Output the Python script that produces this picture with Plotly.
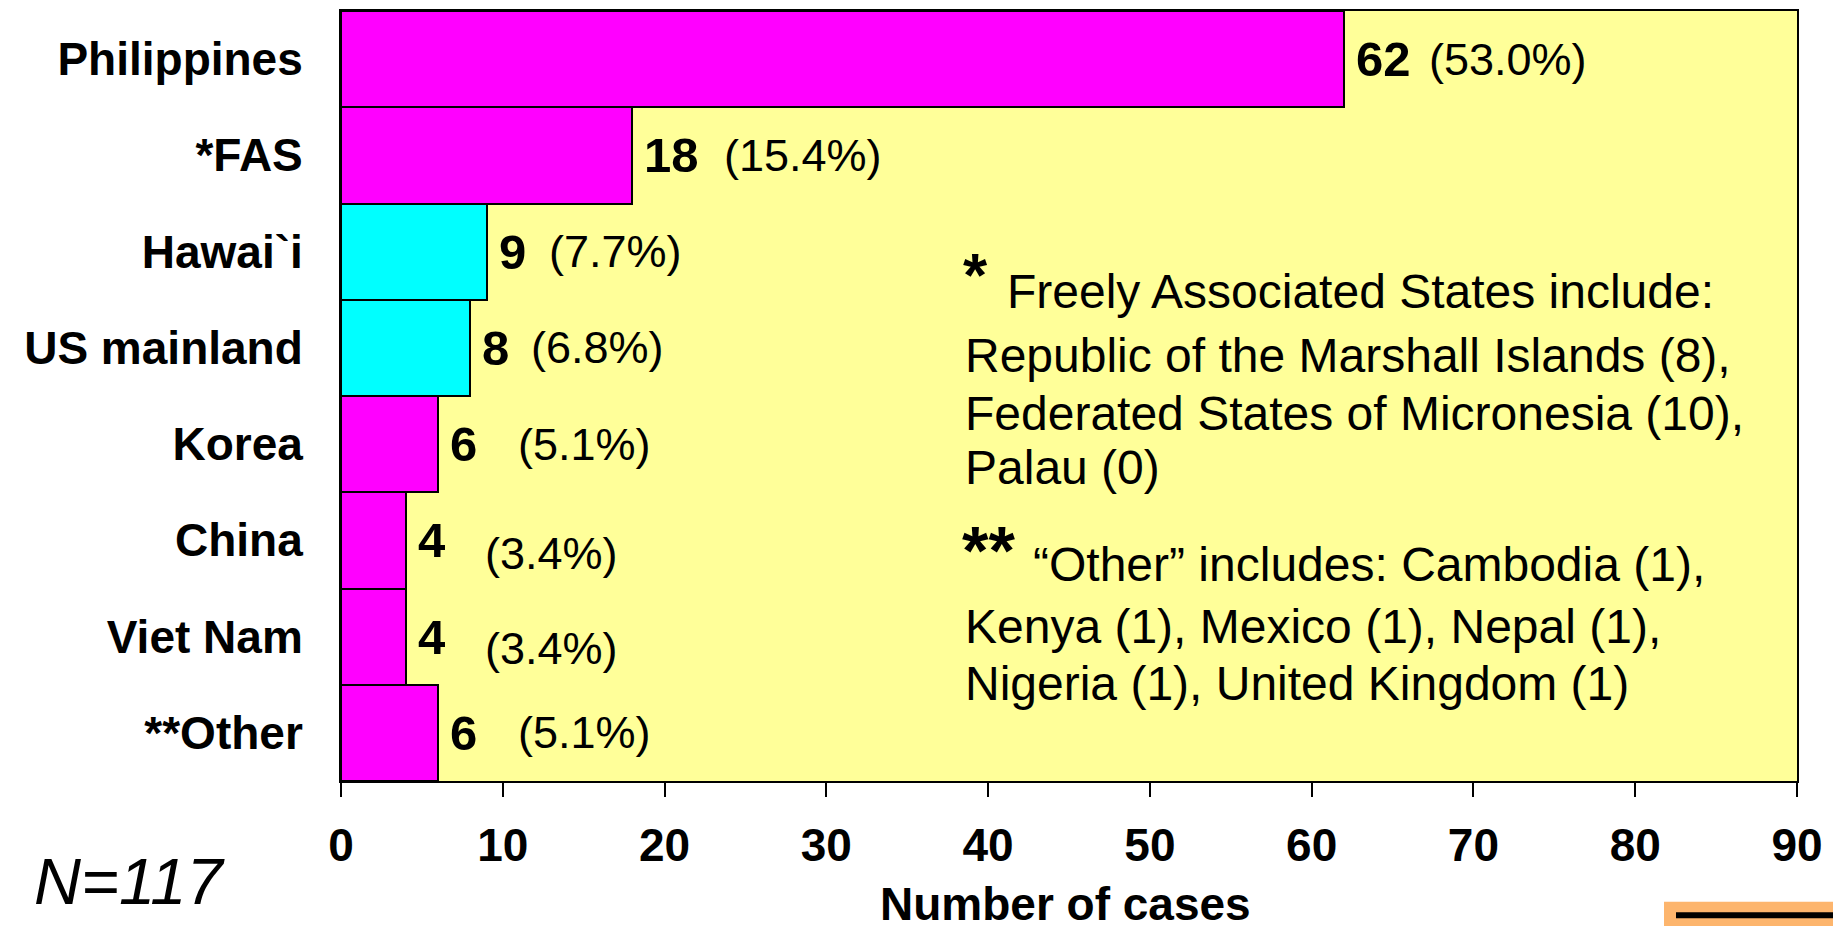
import plotly.graph_objects as go

# ---- data ----
categories = ["Philippines", "*FAS", "Hawai`i", "US mainland", "Korea", "China", "Viet Nam", "**Other"]
cases = [62, 18, 9, 8, 6, 4, 4, 6]
percents = ["(53.0%)", "(15.4%)", "(7.7%)", "(6.8%)", "(5.1%)", "(3.4%)", "(3.4%)", "(5.1%)"]
origin_group = ["foreign", "foreign", "us", "us", "foreign", "foreign", "foreign", "foreign"]
x_ticks = [0, 10, 20, 30, 40, 50, 60, 70, 80, 90]
note_fas = ["Freely Associated States include:",
            "Republic of the Marshall Islands (8),",
            "Federated States of Micronesia (10),",
            "Palau (0)"]
note_other = ["\u201cOther\u201d includes: Cambodia (1),",
              "Kenya (1), Mexico (1), Nepal (1),",
              "Nigeria (1), United Kingdom (1)"]
total_label = "N=117"
x_title = "Number of cases"

# ---- style ----
OFF = 8  # page body margin
W, H = 1841 - OFF, 926 - OFF
L, T = 341 - OFF, 9 - OFF
R = 44
B = H - (781 - OFF)
PW, PH = W - L - R, H - T - B
FONT = "Liberation Sans, Arial, sans-serif"
group_colors = {"foreign": "#FF00FF", "us": "#00FFFF"}


def px_x(p):
    return (p - OFF - L) / PW


def px_y(p):
    return (H - B - (p - OFF)) / PH


fig = go.Figure()
fig.add_trace(go.Bar(
    x=cases, y=categories, orientation="h",
    marker=dict(color=[group_colors[g] for g in origin_group],
                line=dict(color="black", width=2)),
    width=1, hoverinfo="skip", showlegend=False,
))

annotations = []
# value labels
pct_shift = [83, 90, 60, 59, 78, 77, 77, 78]
pct_yshift = [0, 0, 0, 0, 0, -13, -12, 0]
for i, (c, v, p) in enumerate(zip(categories, cases, percents)):
    annotations.append(dict(x=v, y=c, xref="x", yref="y", text="<b>%d</b>" % v,
                            showarrow=False, xanchor="left", yanchor="middle", xshift=10,
                            font=dict(family=FONT, size=49, color="black")))
    annotations.append(dict(x=v, y=c, xref="x", yref="y", text=p,
                            showarrow=False, xanchor="left", yanchor="middle",
                            xshift=pct_shift[i], yshift=pct_yshift[i],
                            font=dict(family=FONT, size=45, color="black")))

# footnotes
note_font = dict(family=FONT, size=48, color="black")
annotations.append(dict(x=px_x(961), y=px_y(273), xref="paper", yref="paper", text="<b>*</b>",
                        showarrow=False, xanchor="left", yanchor="middle",
                        font=dict(family=FONT, size=62, color="black")))
fas_x = [1005, 963, 963, 963]
fas_y = [290, 354, 413, 467]
for t, xx, yy in zip(note_fas, fas_x, fas_y):
    annotations.append(dict(x=px_x(xx), y=px_y(yy), xref="paper", yref="paper", text=t,
                            showarrow=False, xanchor="left", yanchor="middle", font=note_font))
annotations.append(dict(x=px_x(960), y=px_y(549), xref="paper", yref="paper", text="<b>**</b>",
                        showarrow=False, xanchor="left", yanchor="middle",
                        font=dict(family=FONT, size=68, color="black")))
oth_x = [1031, 963, 963]
oth_y = [564, 626, 683]
for t, xx, yy in zip(note_other, oth_x, oth_y):
    annotations.append(dict(x=px_x(xx), y=px_y(yy), xref="paper", yref="paper", text=t,
                            showarrow=False, xanchor="left", yanchor="middle", font=note_font))

# axis title & N
annotations.append(dict(x=px_x(1065), y=px_y(904), xref="paper", yref="paper",
                        text="<b>%s</b>" % x_title, showarrow=False,
                        xanchor="center", yanchor="middle",
                        font=dict(family=FONT, size=46, color="black")))
annotations.append(dict(x=px_x(32), y=px_y(882), xref="paper", yref="paper",
                        text="<i>%s</i>" % total_label, showarrow=False,
                        xanchor="left", yanchor="middle",
                        font=dict(family=FONT, size=65, color="black")))

shapes = [
    dict(type="rect", xref="paper", yref="paper", x0=px_x(1664), x1=px_x(1850),
         y0=px_y(935), y1=px_y(902), fillcolor="#FDB56D", line=dict(width=0), layer="above"),
    dict(type="line", xref="paper", yref="paper", x0=px_x(1676), x1=px_x(1850),
         y0=px_y(915.5), y1=px_y(915.5), line=dict(color="black", width=6), layer="above"),
]

fig.update_layout(
    width=W, height=H,
    margin=dict(l=L, r=R, t=T, b=B, pad=0),
    paper_bgcolor="white", plot_bgcolor="#FFFF99",
    bargap=0,
    annotations=annotations, shapes=shapes,
    xaxis=dict(range=[0, 90], tickvals=x_ticks, showgrid=False, zeroline=False,
               ticks="outside", ticklen=14, tickwidth=2, tickcolor="black",
               showline=True, linewidth=2, linecolor="black", mirror=True,
               ticklabelstandoff=9,
               tickfont=dict(family=FONT, size=46, color="black", weight="bold")),
    yaxis=dict(type="category", autorange="reversed", showgrid=False, zeroline=False,
               ticks="", showline=True, linewidth=2, linecolor="black", mirror=True,
               ticklabelstandoff=27,
               tickfont=dict(family=FONT, size=46, color="black", weight="bold")),
    font=dict(family=FONT, color="black"),
)

fig.write_html("out.html")
